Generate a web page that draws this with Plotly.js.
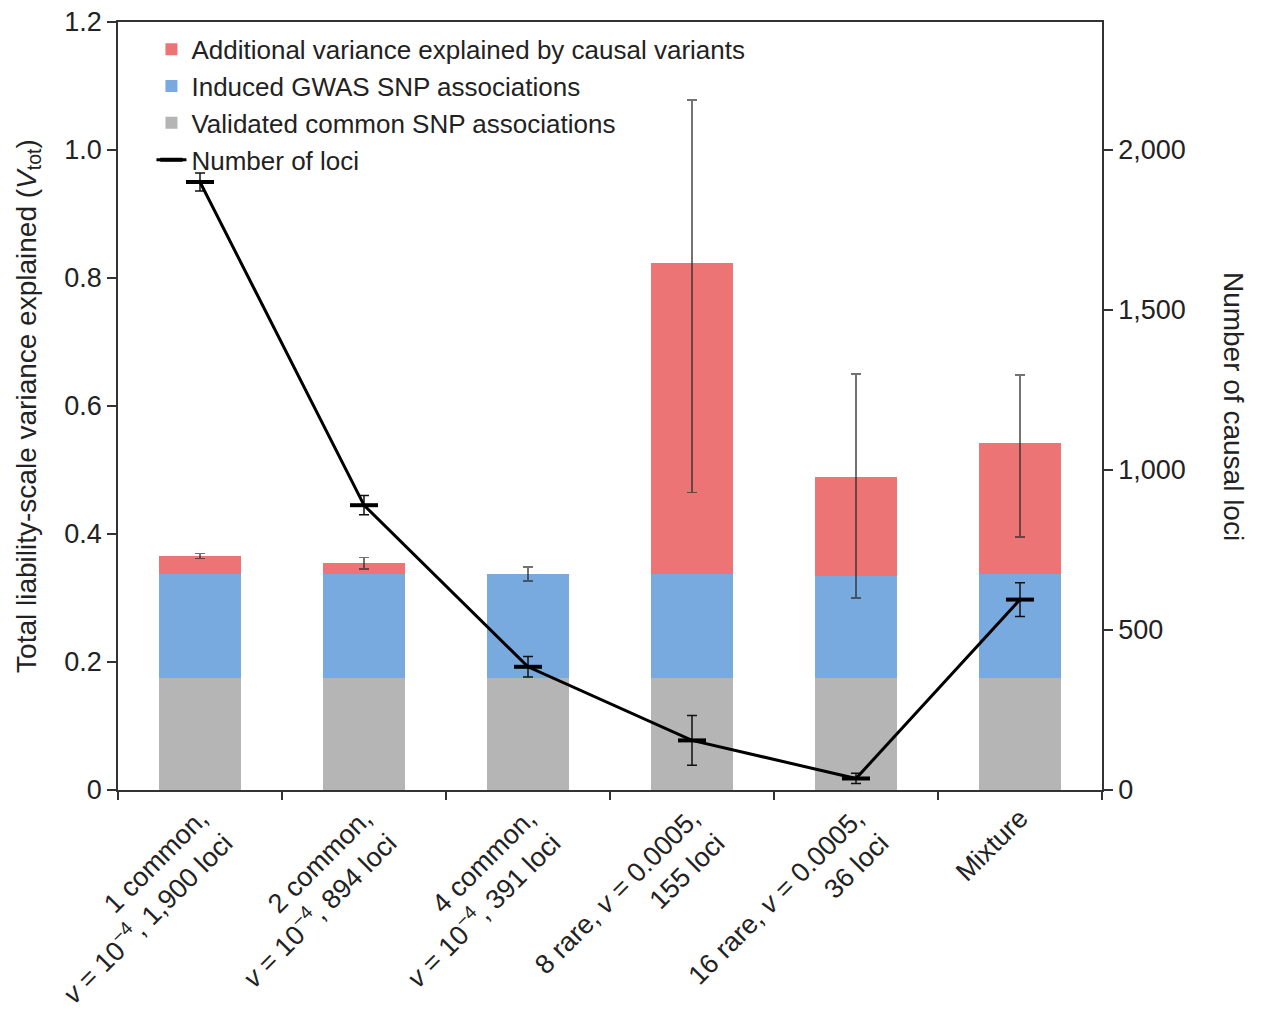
<!DOCTYPE html>
<html>
<head>
<meta charset="utf-8">
<script src="https://cdn.plot.ly/plotly-3.0.1.min.js"></script>
<style>html,body{margin:0;padding:0;background:#fff;}#chart{width:1262px;height:1013px;}</style>
</head>
<body>
<div id="chart"></div>
<script>
// Categories (x tick labels)
const categories = [
  "1 common,<br><i>v</i> = 10<sup>−4</sup>, 1,900 loci",
  "2 common,<br><i>v</i> = 10<sup>−4</sup>, 894 loci",
  "4 common,<br><i>v</i> = 10<sup>−4</sup>, 391 loci",
  "8 rare, <i>v</i> = 0.0005,<br>155 loci",
  "16 rare, <i>v</i> = 0.0005,<br>36 loci",
  "Mixture"
];
// Stacked variance components (left axis)
const validatedCommon = [0.175, 0.175, 0.175, 0.175, 0.175, 0.175];
const inducedGWAS     = [0.1625, 0.1625, 0.1625, 0.1625, 0.16, 0.1625];
const additionalCausal = [0.028, 0.017, 0.0, 0.486, 0.154, 0.205];
// Error on total variance (upper / lower)
const totalErrPlus  = [0.004, 0.009, 0.011, 0.255, 0.161, 0.106];
const totalErrMinus = [0.004, 0.009, 0.011, 0.359, 0.189, 0.147];
// Number of causal loci (right axis)
const numLoci = [1900, 890, 385, 155, 36, 595];
const lociErr = [28, 30, 32, 78, 16, 53];

const FONT = "Liberation Sans, Arial, Helvetica, sans-serif";
const tickFont = {family: FONT, size: 27, color: "#222"};

const traces = [
  {type: "bar", name: "Validated common SNP associations", x: categories, y: validatedCommon,
   marker: {color: "#b5b5b5"}, width: 0.5, legendrank: 3},
  {type: "bar", name: "Induced GWAS SNP associations", x: categories, y: inducedGWAS,
   marker: {color: "#78aae0"}, width: 0.5, legendrank: 2},
  {type: "bar", name: "Additional variance explained by causal variants", x: categories, y: additionalCausal,
   marker: {color: "#ec7474"}, width: 0.5, legendrank: 1,
   error_y: {type: "data", symmetric: false, array: totalErrPlus, arrayminus: totalErrMinus,
             color: "rgba(40,40,40,0.65)", thickness: 1.5, width: 5}},
  {type: "scatter", mode: "lines+markers", name: "Number of loci", x: categories, y: numLoci, yaxis: "y2",
   line: {color: "#000", width: 3},
   marker: {symbol: "line-ew", size: 20, line: {color: "#000", width: 4}, color: "#000"},
   error_y: {type: "data", array: lociErr, color: "#111", thickness: 1.5, width: 5},
   legendrank: 4}
];

const layout = {
  width: 1262, height: 1013,
  margin: {l: 118, r: 160, t: 22, b: 223},
  paper_bgcolor: "#fff", plot_bgcolor: "#fff",
  barmode: "stack", bargap: 0.5,
  font: {family: FONT, size: 26, color: "#222"},
  showlegend: true,
  legend: {x: 0.034, y: 0.995, xanchor: "left", yanchor: "top", traceorder: "normal",
           bgcolor: "rgba(0,0,0,0)", font: {family: FONT, size: 26, color: "#222"}, tracegroupgap: 0,
           itemwidth: 30},
  xaxis: {type: "category", tickson: "boundaries", ticks: "outside", ticklen: 8, tickwidth: 1.5,
          tickcolor: "#333", showline: true, linecolor: "#333", linewidth: 1.5, mirror: true,
          tickangle: -45, tickfont: tickFont, showgrid: false, zeroline: false},
  yaxis: {range: [0, 1.2], tickvals: [0, 0.2, 0.4, 0.6, 0.8, 1.0, 1.2],
          ticktext: ["0", "0.2", "0.4", "0.6", "0.8", "1.0", "1.2"],
          ticks: "outside", ticklen: 9, tickwidth: 1.5, tickcolor: "#333",
          showline: true, linecolor: "#333", linewidth: 1.5, showgrid: false, zeroline: false,
          tickfont: tickFont,
          title: {text: "Total liability-scale variance explained (<i>V</i><sub>tot</sub>)",
                  font: {family: FONT, size: 28, color: "#222"}, standoff: 20}},
  yaxis2: {overlaying: "y", side: "right", range: [0, 2400], tickvals: [0, 500, 1000, 1500, 2000],
           tickformat: ",d", ticks: "outside", ticklen: 9, tickwidth: 1.5, tickcolor: "#333",
           showline: true, linecolor: "#333", linewidth: 1.5, showgrid: false, zeroline: false,
           tickfont: tickFont},
  annotations: [
    {text: "Number of causal loci", xref: "paper", yref: "paper", x: 1.152, y: 0.5,
     textangle: 90, showarrow: false, font: {family: FONT, size: 28, color: "#222"}}
  ]
};

Plotly.newPlot("chart", traces, layout, {displayModeBar: false});
</script>
</body>
</html>
